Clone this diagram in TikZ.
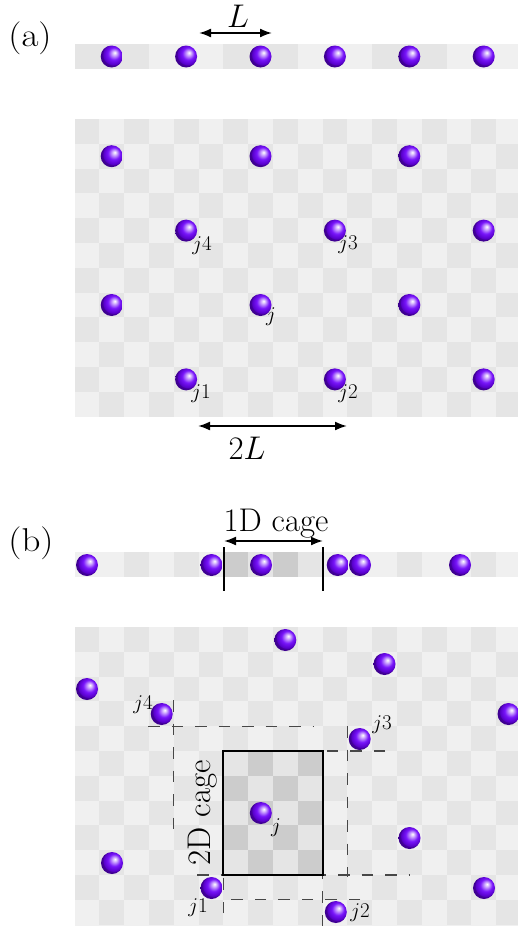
\RequirePackage{fix-cm}
\documentclass[tikz,border=0pt]{standalone}
\usetikzlibrary{arrows.meta}
\definecolor{atomc}{RGB}{108,0,250}
\definecolor{cl}{RGB}{240,240,240}
\definecolor{cd}{RGB}{229,229,229}
\definecolor{cc}{RGB}{204,204,204}
\pgfdeclareradialshading{atomball}{\pgfqpoint{7bp}{9bp}}{color(0bp)=(white); color(4bp)=(atomc!25!white); color(14bp)=(atomc!92!white); color(23bp)=(atomc!80!black); color(25bp)=(atomc!60!black); color(50bp)=(atomc!40!black)}
\tikzset{
  atom/.style={circle, minimum size=22pt, inner sep=0pt, shading=atomball},
  biglab/.style={inner sep=0pt, font=\fontsize{32.8}{38}\selectfont},
  panellab/.style={inner sep=0pt, xscale=1.12, font=\fontsize{33}{38}\selectfont},
  smalllab/.style={inner sep=0pt, font=\fontsize{21}{24}\selectfont},
  dimarrow/.style={line width=1.9pt, {Latex[length=12pt,width=9pt]}-{Latex[length=12pt,width=9pt]}},
  cagewall/.style={line width=1.9pt, black},
  nbrdash/.style={line width=1.2pt, black!72, dash pattern=on 11.5pt off 12pt},
}
\begin{document}
\begin{tikzpicture}[x=1pt,y=-1pt]
\useasboundingbox (0,0) rectangle (518,926);
\begin{scope}
\clip (0,0) rectangle (518,926);
% ---- (a) 1D strip
\fill[cl] (74.5,44) rectangle (520,69);
\foreach \i in {0,1,2,6,7,8,12,13,14} {\fill[cd] ({74.5+24.8*\i},44) rectangle +(24.8,25);}
% ---- (a) 2D grid
\fill[cl] (74.5,119) rectangle (520,416.6);
\foreach \i in {0,...,17} {\foreach \j in {0,...,11} {
  \pgfmathtruncatemacro\s{mod(\i+\j,2)}
  \ifnum\s=0 \fill[cd] ({74.5+24.8*\i},{119+24.8*\j}) rectangle +(24.8,24.8);\fi
}}
% ---- (b) 1D strip
\fill[cl] (74.5,552) rectangle (520,577);
\foreach \i in {2,4,13,16} {\fill[cd] ({74.5+24.8*\i},552) rectangle +(24.8,25);}
\foreach \i in {6,8} {\fill[cc] ({74.5+24.8*\i},552) rectangle +(24.8,25);}
\foreach \i in {7,9} {\fill[cd] ({74.5+24.8*\i},552) rectangle +(24.8,25);}
% ---- (b) 2D grid
\fill[cl] (74.5,627) rectangle (520,930);
\foreach \i in {0,...,17} {\foreach \j in {0,...,11} {
  \pgfmathtruncatemacro\s{mod(\i+\j,2)}
  \ifnum\s=0 \fill[cd] ({74.5+24.8*\i},{627+24.8*\j}) rectangle +(24.8,24.8);\fi
}}
\foreach \i in {6,...,9} {\foreach \j in {5,...,9} {
  \pgfmathtruncatemacro\s{mod(\i+\j,2)}
  \ifnum\s=0 \fill[cc] ({74.5+24.8*\i},{627+24.8*\j}) rectangle +(24.8,24.8);
  \else \fill[cd] ({74.5+24.8*\i},{627+24.8*\j}) rectangle +(24.8,24.8);\fi
}}
\end{scope}

% ================= panel (a)
\node[panellab] (pa) at (30,38) {(a)};
\foreach \x [count=\k] in {111.7,186.1,260.5,334.9,409.3,483.7} {\node[atom] (a1d\k) at (\x,56.5) {};}
\coordinate (Lleft) at (199,33);
\coordinate (Lright) at (272,33);
\draw[dimarrow] (Lleft) -- (Lright);
\node[biglab] (Llab) at (238,16) {$L$};

\node[atom] (q1) at (111.7,156.2) {};
\node[atom] (q2) at (260.5,156.2) {};
\node[atom] (q3) at (409.3,156.2) {};
\node[atom] (aj4) at (186.1,230.6) {};
\node[atom] (aj3) at (334.9,230.6) {};
\node[atom] (q6) at (483.7,230.6) {};
\node[atom] (q7) at (111.7,305) {};
\node[atom] (aj) at (260.5,305) {};
\node[atom] (q9) at (409.3,305) {};
\node[atom] (aj1) at (186.1,379.4) {};
\node[atom] (aj2) at (334.9,379.4) {};
\node[atom] (q12) at (483.7,379.4) {};
\node[smalllab] (laj4) at (202,246) {$j4$};
\node[smalllab] (laj3) at (348,245) {$j3$};
\node[smalllab] (laj) at (271,317) {$j$};
\node[smalllab] (laj1) at (201,394) {$j1$};
\node[smalllab] (laj2) at (348,394) {$j2$};
\coordinate (TLleft) at (198,426);
\coordinate (TLright) at (347,426);
\draw[dimarrow] (TLleft) -- (TLright);
\node[biglab] (TLlab) at (247,448) {$2L$};

% ================= panel (b)
\node[panellab] (pb) at (31,543) {(b)};
\coordinate (w1t) at (224,547); \coordinate (w1b) at (224,591);
\coordinate (w2t) at (323,547); \coordinate (w2b) at (323,591);
\draw[cagewall] (w1t) -- (w1b);
\draw[cagewall] (w2t) -- (w2b);
\foreach \x [count=\k] in {87,211.5,261,337.7,360,460} {\node[atom] (b1d\k) at (\x,565) {};}
\coordinate (Cleft) at (224,541);
\coordinate (Cright) at (323,541);
\draw[dimarrow] (Cleft) -- (Cright);
\node[biglab, anchor=base] (Clab) at (276,531) {1D cage};

% dashed neighbour lines
\draw[nbrdash] (148,726.2) -- (313,726.2);
\draw[nbrdash] (173.7,700) -- (173.7,840);
\draw[nbrdash] (347.5,726.2) -- (347.5,877);
\draw[nbrdash] (385,751) -- (322.7,751);
\draw[nbrdash] (322.7,926) -- (322.7,740);
\draw[nbrdash] (360,899.8) -- (223.3,899.8);
\draw[nbrdash] (197,875) -- (410,875);
\draw[nbrdash] (223.3,913) -- (223.3,751);
% 2D cage
\coordinate (cageA) at (223.3,751);
\coordinate (cageB) at (322.7,875);
\draw[cagewall] (cageA) rectangle (cageB);
\node[biglab, rotate=90] (C2lab) at (203,813) {2D cage};

\node[atom] (r1) at (285.3,640) {};
\node[atom] (r2) at (384.5,664) {};
\node[atom] (r3) at (87,689) {};
\node[atom] (bj4) at (161.7,714) {};
\node[atom] (r5) at (508.5,714) {};
\node[atom] (bj3) at (359.7,739) {};
\node[atom] (bj) at (260.8,813) {};
\node[atom] (r8) at (409.5,838) {};
\node[atom] (r9) at (112,863) {};
\node[atom] (bj1) at (211.5,888) {};
\node[atom] (r11) at (484,888) {};
\node[atom] (bj2) at (335.8,912) {};
\node[smalllab] (lbj4) at (143,705) {$j4$};
\node[smalllab] (lbj3) at (382,725) {$j3$};
\node[smalllab] (lbj) at (276,828) {$j$};
\node[smalllab] (lbj1) at (198,908) {$j1$};
\node[smalllab] (lbj2) at (360,913) {$j2$};
\end{tikzpicture}
\end{document}
